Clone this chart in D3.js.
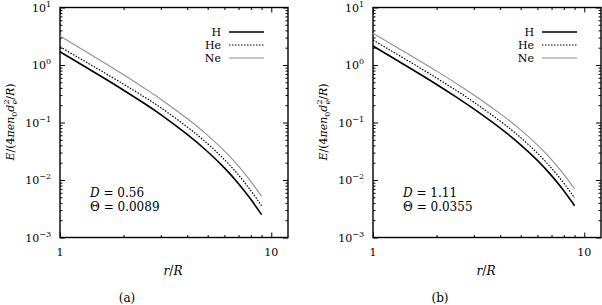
<!DOCTYPE html>
<html>
<head>
<meta charset="utf-8">
<script src="https://cdn.jsdelivr.net/npm/d3@7"></script>
<style>
  body { margin: 0; background: #fff; }
  svg text { font-family: 'DejaVu Serif', serif; font-size: 12px; fill: #000; }
</style>
</head>
<body>
<svg id="chart" width="602" height="305"></svg>
<script>
// radius values (r/R), shared by both panels
var rValues = [1, 1.5, 2, 2.5, 3, 4, 5, 6, 7, 8, 9];

// panel (a)
var hA  = [1.698, 0.696, 0.3644, 0.2158, 0.1368, 0.06197, 0.03101, 0.01624, 0.008636, 0.004609, 0.002500];
var heA = [2.075, 0.867, 0.4635, 0.2799, 0.1810, 0.08366, 0.04270, 0.02264, 0.01219, 0.006554, 0.003585];
var neA = [3.184, 1.298, 0.6760, 0.3992, 0.2544, 0.1171, 0.05985, 0.03199, 0.01736, 0.009448, 0.005225];

// panel (b)
var hB  = [2.138, 0.876, 0.4588, 0.2716, 0.1721, 0.07983, 0.04089, 0.02190, 0.01192, 0.006512, 0.003571];
var heB = [2.720, 1.123, 0.5928, 0.3536, 0.2260, 0.1056, 0.05455, 0.02932, 0.01603, 0.00883, 0.00486];
var neB = [3.556, 1.474, 0.7818, 0.4682, 0.3015, 0.1427, 0.07454, 0.04073, 0.02261, 0.01256, 0.006967];

var seriesNames = ['H', 'He', 'Ne'];
var panelNames = ['(a)', '(b)'];
var dValues = ['0.56', '1.11'];
var thetaValues = ['0.0089', '0.0355'];
var yTickPowers = [1, 0, -1, -2, -3];
var xTickLabels = [1, 10];

var svg = d3.select('#chart');

var styles = {
  H:  { stroke: '#000', width: 1.6, dash: null },
  He: { stroke: '#000', width: 1.2, dash: '1.5,1.5' },
  Ne: { stroke: '#909090', width: 1.1, dash: null }
};

function drawPanel(x0, series, idx) {
  var w = 228, top = 7.5, bottom = 237.5;
  var x = d3.scaleLog().domain([1, 12]).range([x0, x0 + w]);
  var y = d3.scaleLog().domain([1e-3, 10]).range([bottom, top]);
  var g = svg.append('g');

  var xMinor = [2, 3, 4, 5, 6, 7, 8, 9];
  var yMinor = [];
  [1e-3, 1e-2, 1e-1, 1].forEach(function(d) {
    for (var k = 2; k <= 9; k++) yMinor.push(d * k);
  });
  var yMajor = yTickPowers.map(function(p) { return Math.pow(10, p); });

  function axis(fn, scale, vals, size, tr) {
    var a = g.append('g')
      .attr('transform', tr)
      .call(fn(scale).tickValues(vals).tickSize(-size).tickFormat(''));
    a.select('.domain').remove();
    a.selectAll('line').attr('stroke', '#000').attr('stroke-width', 1);
  }
  axis(d3.axisBottom, x, xTickLabels, 5, 'translate(0,' + bottom + ')');
  axis(d3.axisBottom, x, xMinor, 2.5, 'translate(0,' + bottom + ')');
  axis(d3.axisTop, x, xTickLabels, 5, 'translate(0,' + top + ')');
  axis(d3.axisTop, x, xMinor, 2.5, 'translate(0,' + top + ')');
  axis(d3.axisLeft, y, yMajor, 5, 'translate(' + x0 + ',0)');
  axis(d3.axisLeft, y, yMinor, 2.5, 'translate(' + x0 + ',0)');
  axis(d3.axisRight, y, yMajor, 5, 'translate(' + (x0 + w) + ',0)');
  axis(d3.axisRight, y, yMinor, 2.5, 'translate(' + (x0 + w) + ',0)');

  // frame
  g.append('rect')
    .attr('x', x0).attr('y', top)
    .attr('width', w).attr('height', bottom - top)
    .attr('fill', 'none').attr('stroke', '#000').attr('stroke-width', 1.4);

  // y tick labels
  yTickPowers.forEach(function(p) {
    var t = g.append('text')
      .attr('x', x0 - 9).attr('y', y(Math.pow(10, p)) + 4)
      .attr('text-anchor', 'end')
      .style('font-size', '11px');
    t.append('tspan').text('10');
    t.append('tspan').attr('dy', -5).style('font-size', '8px')
      .text(p < 0 ? '\u2212' + (-p) : String(p));
  });

  // x tick labels
  xTickLabels.forEach(function(v) {
    g.append('text')
      .attr('x', x(v)).attr('y', 256)
      .attr('text-anchor', 'middle')
      .style('font-size', '11px')
      .text(v);
  });

  // x label
  var xl = g.append('text')
    .attr('x', x0 + 113).attr('y', 275)
    .attr('text-anchor', 'middle');
  xl.append('tspan').attr('font-style', 'italic').text('r');
  xl.append('tspan').text('/');
  xl.append('tspan').attr('font-style', 'italic').text('R');

  // y label
  var yl = g.append('text')
    .attr('transform', 'translate(' + (x0 - 46) + ',122) rotate(-90)')
    .attr('text-anchor', 'middle')
    .style('font-size', '11px');
  yl.append('tspan').attr('font-style', 'italic').text('E');
  yl.append('tspan').text('/(4');
  yl.append('tspan').attr('font-style', 'italic').text('\u03c0en');
  yl.append('tspan').style('font-size', '8px').attr('dy', 2.5).text('0');
  yl.append('tspan').attr('font-style', 'italic').attr('dy', -2.5).text('d');
  yl.append('tspan').style('font-size', '8px').attr('dy', -5).text('2');
  yl.append('tspan').style('font-size', '8px').attr('font-style', 'italic')
    .attr('dx', -5).attr('dy', 8).text('e');
  yl.append('tspan').attr('dy', -3).text('/');
  yl.append('tspan').attr('font-style', 'italic').text('R');
  yl.append('tspan').text(')');

  // panel caption
  g.append('text')
    .attr('x', x0 + 67).attr('y', 302)
    .attr('text-anchor', 'middle')
    .text(panelNames[idx]);

  // curves
  var line = d3.line()
    .x(function(d) { return x(d[0]); })
    .y(function(d) { return y(d[1]); })
    .curve(d3.curveNatural);

  seriesNames.forEach(function(name, i) {
    var pts = rValues.map(function(r, j) { return [r, series[i][j]]; });
    var s = styles[name];
    g.append('path')
      .datum(pts)
      .attr('d', line)
      .attr('fill', 'none')
      .attr('stroke', s.stroke)
      .attr('stroke-width', s.width)
      .attr('stroke-dasharray', s.dash);

    // legend
    var ly = 32 + i * 13;
    g.append('text')
      .attr('x', x0 + 161).attr('y', ly + 4)
      .attr('text-anchor', 'end')
      .style('font-size', '11px')
      .text(name);
    g.append('line')
      .attr('x1', x0 + 169).attr('x2', x0 + 204)
      .attr('y1', ly).attr('y2', ly)
      .attr('stroke', s.stroke)
      .attr('stroke-width', s.width)
      .attr('stroke-dasharray', s.dash);
  });

  // parameters
  var t1 = g.append('text').attr('x', x0 + 30).attr('y', 197);
  t1.append('tspan').attr('font-style', 'italic').text('D');
  t1.append('tspan').text(' = ' + dValues[idx]);
  g.append('text').attr('x', x0 + 30).attr('y', 211)
    .text('\u0398 = ' + thetaValues[idx]);
}

drawPanel(60, [hA, heA, neA], 0);
drawPanel(373, [hB, heB, neB], 1);
</script>
</body>
</html>
